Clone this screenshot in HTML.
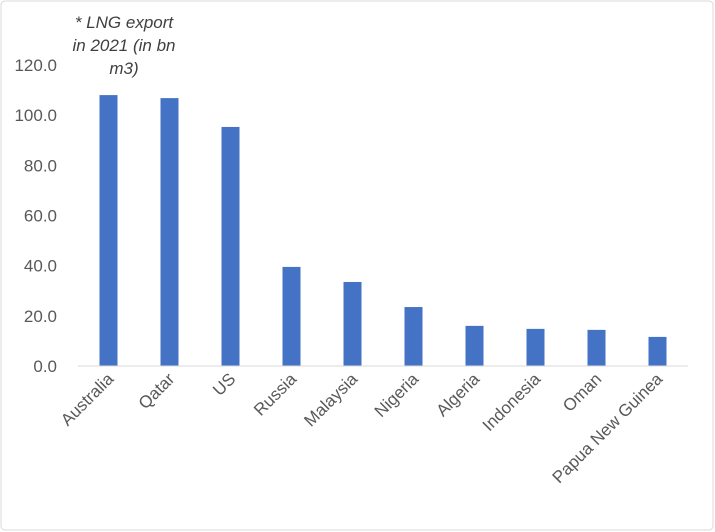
<!DOCTYPE html>
<html><head><meta charset="utf-8"><style>
body{margin:0;background:#fff;}
svg{display:block;font-family:"Liberation Sans",sans-serif;}
</style></head><body>
<svg id="c" width="715" height="532">
<rect x="1" y="1" width="712" height="529" rx="4" fill="#fff" stroke="#d9d9d9"/>
<g font-style="italic" font-size="17" fill="#404040" text-anchor="middle">
<text x="124" y="28">* LNG export</text>
<text x="124" y="51">in 2021 (in bn</text>
<text x="124" y="74">m3)</text>
</g>
<g id="yaxis"></g>
<g id="bars"></g>
<g id="xaxis"></g>
</svg>
<script>
const categories=["Australia","Qatar","US","Russia","Malaysia","Nigeria","Algeria","Indonesia","Oman","Papua New Guinea"];
const values=[108,106.8,95.3,39.5,33.5,23.5,16,14.8,14.4,11.6];
const yTicks=[0,20,40,60,80,100,120];
const ns="http://www.w3.org/2000/svg";
const x0=78,x1=688,y0=366,yTop=65,yMax=120;
const y=v=>y0-(v/yMax)*(y0-yTop);
const step=(x1-x0)/categories.length;
const xc=i=>x0+step*(i+0.5);
function mk(t,a,p){const e=document.createElementNS(ns,t);for(const k in a)e.setAttribute(k,a[k]);p.appendChild(e);return e;}
const ya=document.getElementById('yaxis'),bg=document.getElementById('bars'),xa=document.getElementById('xaxis');
yTicks.forEach(v=>{
 const t=mk('text',{x:57,y:y(v)+6,'text-anchor':'end','font-size':17,fill:'#595959'},ya);
 
 
 t.textContent=v.toFixed(1);
});
const ax=mk('line',{x1:x0,x2:x1,y1:y0,y2:y0,stroke:'#d9d9d9','stroke-width':1},xa);


categories.forEach((c,i)=>{
 const r=mk('rect',{x:xc(i)-9,y:y(values[i]),width:18,height:y0-y(values[i]),fill:'#4472c4'},bg);
 
 
 const t=mk('text',{x:0,y:0,'text-anchor':'end','font-size':17,fill:'#595959',transform:`translate(${xc(i)+6},${y0+14}) rotate(-45)`},xa);
 
 
 t.textContent=c;
});
</script>
</body></html>
